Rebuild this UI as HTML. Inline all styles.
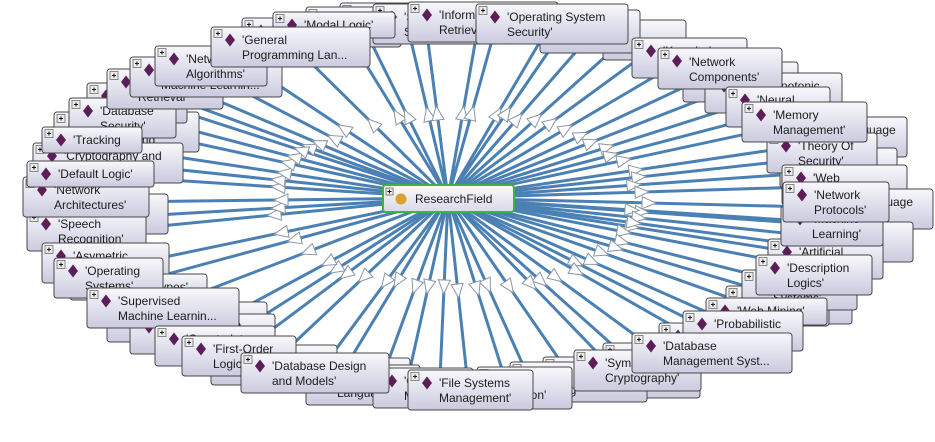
<!DOCTYPE html>
<html><head><meta charset="utf-8"><style>
html,body{margin:0;padding:0;background:#fff;width:935px;height:442px;overflow:hidden}
svg{display:block}
.n rect{fill:url(#gr);stroke:#474747;stroke-width:1}
.n text,.c text{font:12px "Liberation Sans",Arial,sans-serif;fill:#1b1b1b}
</style></head><body>
<svg id="d" width="935" height="442" viewBox="0 0 935 442" xmlns="http://www.w3.org/2000/svg">
<defs>
<linearGradient id="gr" x1="0" y1="0" x2="0" y2="1"><stop offset="0" stop-color="#f8f8fc"/><stop offset="1" stop-color="#cbcadf"/></linearGradient>
<linearGradient id="gc" x1="0" y1="0" x2="0" y2="1"><stop offset="0" stop-color="#fbfbfd"/><stop offset="1" stop-color="#d9d8e8"/></linearGradient>
<g id="pl"><rect x="3" y="2.5" width="8" height="8" style="fill:#ececec;stroke:#707070;stroke-width:0.8"/><path d="M5 6.5h4M7 4.5v4" style="stroke:#111;stroke-width:1;fill:none"/></g>
<polygon id="dm" points="19,6.5 24,13 19,19.5 14,13" style="fill:#5b1e58;stroke:none"/>
</defs>
<g id="edges" stroke="#4a80b4" stroke-width="3" stroke-linecap="round"></g>
<g id="arrows" fill="#fff" stroke="#8a96a3" stroke-width="1"></g>
<g id="nodes">
<g class="n" transform="translate(340,3)"><rect width="90" height="40" rx="3"/><use href="#pl"/><use href="#dm"/><text x="31" y="17">'Grid</text><text x="31" y="32">Systems'</text></g>
<g class="n" transform="translate(306,7)"><rect width="95" height="40" rx="3"/><use href="#pl"/><use href="#dm"/><text x="31" y="17">'Temporal</text><text x="31" y="32">Logic'</text></g>
<g class="n" transform="translate(373,4)"><rect width="150" height="40" rx="3"/><use href="#pl"/><use href="#dm"/><text x="31" y="17">'Software</text><text x="31" y="32">Security'</text></g>
<g class="n" transform="translate(242,18)"><rect width="100" height="40" rx="3"/><use href="#pl"/><use href="#dm"/><text x="31" y="17">'Fuzzy</text><text x="31" y="32">Sets'</text></g>
<g class="n" transform="translate(273,12)"><rect width="122" height="26" rx="3"/><use href="#pl"/><use href="#dm"/><text x="31" y="17">'Modal Logic'</text></g>
<g class="n" transform="translate(408,2)"><rect width="150" height="40" rx="3"/><use href="#pl"/><use href="#dm"/><text x="31" y="17">'Information</text><text x="31" y="32">Retrieval'</text></g>
<g class="n" transform="translate(603,20)"><rect width="83" height="40" rx="3"/><use href="#pl"/><use href="#dm"/></g>
<g class="n" transform="translate(540,10)"><rect width="100" height="43" rx="3"/><use href="#pl"/><use href="#dm"/><text x="31" y="17">'Computer</text><text x="31" y="32">Vision'</text></g>
<g class="n" transform="translate(476,4)"><rect width="152" height="40" rx="3"/><use href="#pl"/><use href="#dm"/><text x="31" y="17">'Operating System</text><text x="31" y="32">Security'</text></g>

<g class="n" transform="translate(632,38)"><rect width="115" height="40" rx="3"/><use href="#pl"/><use href="#dm"/><text x="31" y="17">'Knowledge</text><text x="31" y="32">Bases'</text></g>
<g class="n" transform="translate(683,62)"><rect width="115" height="40" rx="3"/><use href="#pl"/><use href="#dm"/><text x="31" y="17">'Computer</text><text x="31" y="32">Architecture'</text></g>
<g class="n" transform="translate(705,73)"><rect width="137" height="40" rx="3"/><use href="#pl"/><use href="#dm"/><text x="31" y="17">'Non-Monotonic</text><text x="31" y="32">Reasoning'</text></g>
<g class="n" transform="translate(658,48)"><rect width="124" height="41" rx="3"/><use href="#pl"/><use href="#dm"/><text x="31" y="18">'Network</text><text x="31" y="33">Components'</text></g>
<g class="n" transform="translate(726,87)"><rect width="104" height="40" rx="3"/><use href="#pl"/><use href="#dm"/><text x="31" y="17">'Neural</text><text x="31" y="32">Networks'</text></g>
<g class="n" transform="translate(767,117)"><rect width="140" height="40" rx="3"/><use href="#pl"/><use href="#dm"/><text x="31" y="17">'Natural Language</text><text x="31" y="32">Processing'</text></g>
<g class="n" transform="translate(780,148)"><rect width="117" height="40" rx="3"/><use href="#pl"/><use href="#dm"/><text x="31" y="17">'Ontology</text><text x="31" y="32">Engineering'</text></g>
<g class="n" transform="translate(767,133)"><rect width="110" height="40" rx="3"/><use href="#pl"/><use href="#dm"/><text x="31" y="17">'Theory Of</text><text x="31" y="32">Security'</text></g>
<g class="n" transform="translate(742,102)"><rect width="125" height="40" rx="3"/><use href="#pl"/><use href="#dm"/><text x="31" y="17">'Memory</text><text x="31" y="32">Management'</text></g>
<g class="n" transform="translate(782,165)"><rect width="125" height="40" rx="3"/><use href="#pl"/><use href="#dm"/><text x="31" y="17">'Web</text><text x="31" y="32">Services'</text></g>
<g class="n" transform="translate(783,189)"><rect width="150" height="40" rx="3"/><use href="#pl"/><use href="#dm"/><text x="31" y="17">'Markup Language</text><text x="31" y="32">Processing'</text></g>
<g class="n" transform="translate(790,222)"><rect width="123" height="40" rx="3"/><use href="#pl"/><use href="#dm"/><text x="31" y="17">'Knowledge</text><text x="31" y="32">Acquisition'</text></g>
<g class="n" transform="translate(768,239)"><rect width="115" height="40" rx="3"/><use href="#pl"/><use href="#dm"/><text x="31" y="17">'Artificial</text><text x="31" y="32">Intelligence'</text></g>
<g class="n" transform="translate(781,206)"><rect width="102" height="40" rx="3"/><use href="#pl"/><use href="#dm"/><text x="31" y="17">'Machine</text><text x="31" y="32">Learning'</text></g>
<g class="n" transform="translate(783,182)"><rect width="106" height="40" rx="3"/><use href="#pl"/><use href="#dm"/><text x="31" y="17">'Network</text><text x="31" y="32">Protocols'</text></g>
<g class="n" transform="translate(752,284)"><rect width="100" height="40" rx="3"/><use href="#pl"/><use href="#dm"/><text x="31" y="17">'Semantic</text><text x="31" y="32">Web'</text></g>
<g class="n" transform="translate(726,286)"><rect width="103" height="40" rx="3"/><use href="#pl"/><use href="#dm"/><text x="31" y="17">'Genetic</text><text x="31" y="32">Algorithms'</text></g>
<g class="n" transform="translate(742,270)"><rect width="115" height="40" rx="3"/><use href="#pl"/><use href="#dm"/><text x="31" y="17">'Robotics</text><text x="31" y="32">Systems'</text></g>
<g class="n" transform="translate(706,298)"><rect width="121" height="27" rx="3"/><use href="#pl"/><use href="#dm"/><text x="31" y="17">'Web Mining'</text></g>
<g class="n" transform="translate(756,255)"><rect width="116" height="40" rx="3"/><use href="#pl"/><use href="#dm"/><text x="31" y="17">'Description</text><text x="31" y="32">Logics'</text></g>

<g class="n" transform="translate(603,343)"><rect width="98" height="40" rx="3"/><use href="#pl"/><use href="#dm"/><text x="31" y="17">'Hash</text><text x="31" y="32">Functions'</text></g>
<g class="n" transform="translate(590,358)"><rect width="110" height="40" rx="3"/><use href="#pl"/><use href="#dm"/><text x="31" y="17">'Block</text><text x="31" y="32">Ciphers'</text></g>
<g class="n" transform="translate(543,357)"><rect width="104" height="40" rx="3"/><use href="#pl"/><use href="#dm"/><text x="31" y="17">'Image</text><text x="31" y="32">Processing'</text></g>
<g class="n" transform="translate(510,362)"><rect width="137" height="40" rx="3"/><use href="#pl"/><use href="#dm"/><text x="31" y="17">'Text</text><text x="31" y="32">Mining'</text></g>
<g class="n" transform="translate(477,367)"><rect width="95" height="42" rx="3"/><use href="#pl"/><use href="#dm"/><text x="31" y="17">'Info</text><text x="31" y="32">Fusion'</text></g>
<g class="n" transform="translate(574,350)"><rect width="127" height="41" rx="3"/><use href="#pl"/><use href="#dm"/><text x="31" y="17">'Symmetric</text><text x="31" y="32">Cryptography'</text></g>
<g class="n" transform="translate(659,323)"><rect width="110" height="40" rx="3"/><use href="#pl"/><use href="#dm"/><text x="31" y="17">'Ubiquitous</text><text x="31" y="32">Computing'</text></g>
<g class="n" transform="translate(683,311)"><rect width="120" height="40" rx="3"/><use href="#pl"/><use href="#dm"/><text x="31" y="17">'Probabilistic</text><text x="31" y="32">Reasoning'</text></g>
<g class="n" transform="translate(632,333)"><rect width="160" height="40" rx="3"/><use href="#pl"/><use href="#dm"/><text x="31" y="17">'Database</text><text x="31" y="32">Management Syst...</text></g>
<g class="n" transform="translate(330,358)"><rect width="80" height="40" rx="3"/><use href="#pl"/><use href="#dm"/><text x="31" y="17">'Type</text><text x="31" y="32">Theory'</text></g>
<g class="n" transform="translate(306,365)"><rect width="114" height="40" rx="3"/><use href="#pl"/><use href="#dm"/><text x="31" y="17">'Programming</text><text x="31" y="32">Languages'</text></g>
<g class="n" transform="translate(373,368)"><rect width="100" height="40" rx="3"/><use href="#pl"/><use href="#dm"/><text x="31" y="17">'Object</text><text x="31" y="32">Models'</text></g>
<g class="n" transform="translate(408,370)"><rect width="125" height="40" rx="3"/><use href="#pl"/><use href="#dm"/><text x="31" y="17">'File Systems</text><text x="31" y="32">Management'</text></g>

<g class="n" transform="translate(54,112)"><rect width="145" height="40" rx="3"/><use href="#pl"/><use href="#dm"/><text x="31" y="17">'Data</text><text x="31" y="32">Warehousing'</text></g>
<g class="n" transform="translate(87,83)"><rect width="100" height="40" rx="3"/><use href="#pl"/><use href="#dm"/><text x="31" y="17">'Mobile</text><text x="31" y="32">Computing'</text></g>
<g class="n" transform="translate(69,98)"><rect width="107" height="40" rx="3"/><use href="#pl"/><use href="#dm"/><text x="31" y="17">'Database</text><text x="31" y="32">Security'</text></g>
<g class="n" transform="translate(107,69)"><rect width="116" height="40" rx="3"/><use href="#pl"/><use href="#dm"/><text x="31" y="17">'Music</text><text x="31" y="32">Retrieval'</text></g>
<g class="n" transform="translate(130,57)"><rect width="152" height="40" rx="3"/><use href="#pl"/><use href="#dm"/><text x="31" y="17">'Unsupervised</text><text x="31" y="32">Machine Learnin...</text></g>
<g class="n" transform="translate(155,46)"><rect width="112" height="40" rx="3"/><use href="#pl"/><use href="#dm"/><text x="31" y="17">'Network</text><text x="31" y="32">Algorithms'</text></g>
<g class="n" transform="translate(211,27)"><rect width="159" height="40" rx="3"/><use href="#pl"/><use href="#dm"/><text x="31" y="17">'General</text><text x="31" y="32">Programming Lan...</text></g>
<g class="n" transform="translate(30,194)"><rect width="138" height="40" rx="3"/><use href="#pl"/><use href="#dm"/><text x="31" y="17">'Pattern</text><text x="31" y="32">Recognition'</text></g>
<g class="n" transform="translate(27,211)"><rect width="119" height="40" rx="3"/><use href="#pl"/><use href="#dm"/><text x="31" y="17">'Speech</text><text x="31" y="32">Recognition'</text></g>
<g class="n" transform="translate(33,143)"><rect width="150" height="40" rx="3"/><use href="#pl"/><use href="#dm"/><text x="31" y="17">'Cryptography and</text><text x="31" y="32">Security'</text></g>
<g class="n" transform="translate(42,127)"><rect width="100" height="26" rx="3"/><use href="#pl"/><use href="#dm"/><text x="31" y="17">'Tracking</text></g>
<g class="n" transform="translate(23,177)"><rect width="126" height="40" rx="3"/><use href="#pl"/><use href="#dm"/><text x="31" y="17">'Network</text><text x="31" y="32">Architectures'</text></g>
<g class="n" transform="translate(27,161)"><rect width="127" height="26" rx="3"/><use href="#pl"/><use href="#dm"/><text x="31" y="17">'Default Logic'</text></g>
<g class="n" transform="translate(42,243)"><rect width="127" height="40" rx="3"/><use href="#pl"/><use href="#dm"/><text x="31" y="17">'Asymetric</text><text x="31" y="32">Cryptography'</text></g>
<g class="n" transform="translate(70,274)"><rect width="137" height="26" rx="3"/><use href="#pl"/><use href="#dm"/><text x="31" y="17">'Complex Types'</text></g>
<g class="n" transform="translate(54,258)"><rect width="109" height="40" rx="3"/><use href="#pl"/><use href="#dm"/><text x="31" y="17">'Operating</text><text x="31" y="32">Systems'</text></g>
<g class="n" transform="translate(107,302)"><rect width="160" height="40" rx="3"/><use href="#pl"/><use href="#dm"/><text x="31" y="17">'Inductive</text><text x="31" y="32">Logic Programming'</text></g>
<g class="n" transform="translate(130,314)"><rect width="145" height="40" rx="3"/><use href="#pl"/><use href="#dm"/><text x="31" y="17">'Reinforcement</text><text x="31" y="32">Learning'</text></g>
<g class="n" transform="translate(87,288)"><rect width="152" height="40" rx="3"/><use href="#pl"/><use href="#dm"/><text x="31" y="17">'Supervised</text><text x="31" y="32">Machine Learnin...</text></g>
<g class="n" transform="translate(155,326)"><rect width="120" height="40" rx="3"/><use href="#pl"/><use href="#dm"/><text x="31" y="17">'Constraint</text><text x="31" y="32">Satisfaction'</text></g>
<g class="n" transform="translate(211,345)"><rect width="126" height="40" rx="3"/><use href="#pl"/><use href="#dm"/><text x="31" y="17">'Computability</text><text x="31" y="32">Theory'</text></g>
<g class="n" transform="translate(182,336)"><rect width="114" height="40" rx="3"/><use href="#pl"/><use href="#dm"/><text x="31" y="17">'First-Order</text><text x="31" y="32">Logic'</text></g>
<g class="n" transform="translate(241,353)"><rect width="148" height="40" rx="3"/><use href="#pl"/><use href="#dm"/><text x="31" y="17">'Database Design</text><text x="31" y="32">and Models'</text></g>
</g>
<g class="c" transform="translate(383,185)">
<rect width="131" height="27" rx="3" fill="url(#gc)" stroke="#3db43d" stroke-width="2"/>
<rect x="3" y="3" width="7" height="7" fill="#eee" stroke="#666" stroke-width="0.8"/>
<path d="M4.5 6.5h4M6.5 4.5v4" stroke="#000" stroke-width="1"/>
<circle cx="18" cy="14" r="5.5" fill="#dba12a"/>
<text x="32" y="18">ResearchField</text>
</g>
</svg>
<script>
(function(){
var NS='http://www.w3.org/2000/svg',cx=448,cy=198;
var E=document.getElementById('edges'),A=document.getElementById('arrows');
var P=[308,147,333,138,343,128,372,123,397,115,407,115,428,113,437,112,463,112,472,112,498,113,507,112,518,118,537,118,552,122,567,128,582,135,592,142,608,147,612,155,625,160,
637,170,640,177,635,185,643,192,650,203,643,212,633,210,640,218,633,227,625,232,635,223,
623,242,617,248,603,253,593,262,577,263,578,272,557,278,542,282,532,285,510,288,488,287,477,290,458,292,444,288,428,288,415,288,397,282,385,283,363,278,345,275,335,270,327,263,307,252,
293,240,280,233,273,215,277,208,280,200,277,187,277,180,283,173,287,163,293,157,300,150,318,143];
for(var i=0;i<P.length;i+=2){
  var px=P[i],py=P[i+1],dx=px-cx,dy=py-cy,L=Math.sqrt(dx*dx+dy*dy),ux=dx/L,uy=dy/L;
  var x2=cx+dx*2.15,y2=cy+dy*2.15;
  var l=document.createElementNS(NS,'line');
  l.setAttribute('x1',cx);l.setAttribute('y1',cy);l.setAttribute('x2',x2.toFixed(1));l.setAttribute('y2',y2.toFixed(1));
  E.appendChild(l);
  var tx=px+ux*6,ty=py+uy*6,bx=tx-ux*14,by=ty-uy*14;
  var p=document.createElementNS(NS,'polygon');
  p.setAttribute('points',tx.toFixed(1)+','+ty.toFixed(1)+' '+(bx-uy*6).toFixed(1)+','+(by+ux*6).toFixed(1)+' '+(bx+uy*6).toFixed(1)+','+(by-ux*6).toFixed(1));
  A.appendChild(p);
}
})();
</script>
</body></html>
